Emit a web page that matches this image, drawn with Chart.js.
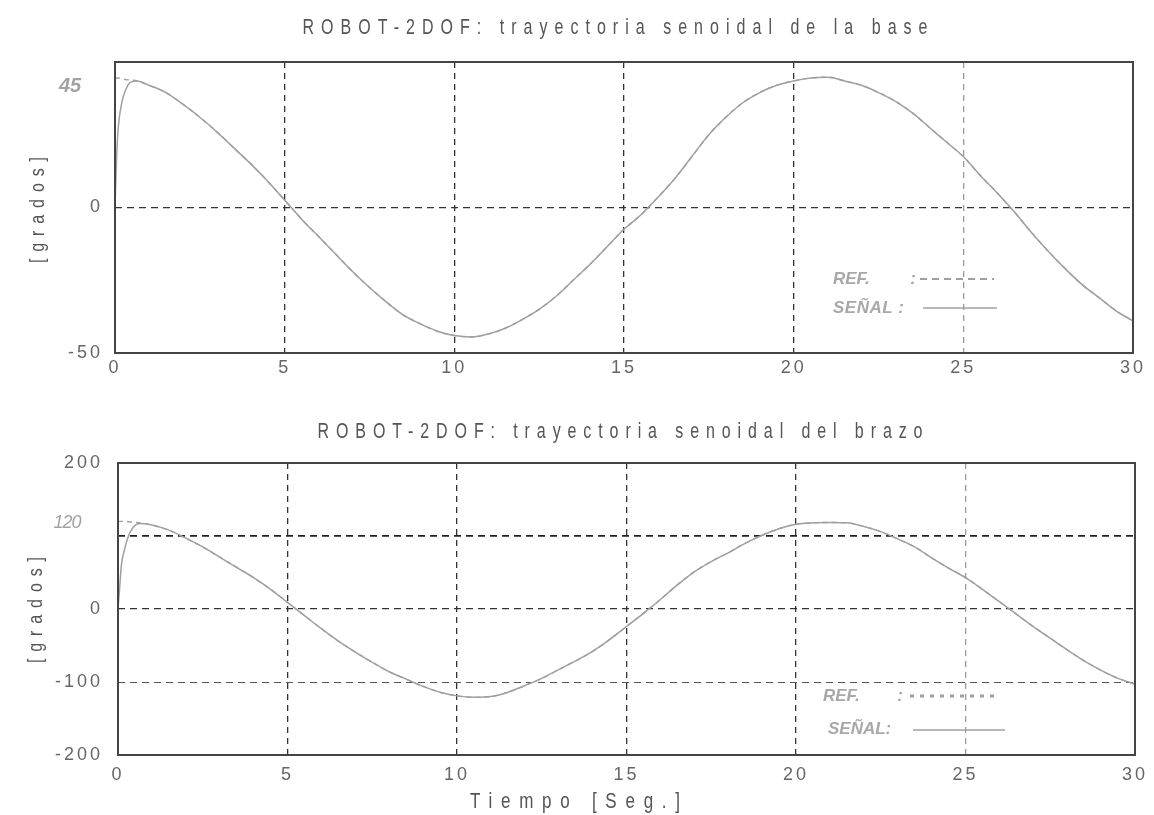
<!DOCTYPE html>
<html>
<head>
<meta charset="utf-8">
<script src="https://cdn.jsdelivr.net/npm/chart.js@4/dist/chart.umd.min.js"></script>
<style>
    body { margin: 0; background: #fff; width: 1154px; height: 815px; overflow: hidden; position: relative; }
    canvas { position: absolute; left: 0; }
    #base { top: 0; }
    #brazo { top: 410px; }
</style>
</head>
<body>
<canvas id="base" width="1154" height="410"></canvas>
<canvas id="brazo" width="1154" height="405"></canvas>
<script>
// tiempo [seg]
var tiempo = [0, 0.05, 0.1, 0.2, 0.3, 0.45, 0.65, 1, 1.5, 2, 2.5, 3, 3.5, 4, 4.5, 5, 5.5, 6, 6.5, 7, 7.5,
    8, 8.5, 9, 9.5, 10, 10.5, 11, 11.5, 12, 12.5, 13, 13.5, 14, 14.5, 15, 15.5, 16, 16.5, 17, 17.5,
    18, 18.5, 19, 19.5, 20, 20.5, 21, 21.5, 22, 22.5, 23, 23.5, 24, 24.5, 25, 25.5, 26, 26.5, 27, 27.5,
    28, 28.5, 29, 29.5, 30];

// base [grados]
var baseSenal = [0, 18, 28, 36, 40, 43, 43.5, 42, 39.5, 35.5, 31, 26, 20.5, 15, 9, 2.5, -4, -10, -16, -22, -27.5,
    -32.5, -37, -40, -42.5, -44, -44.5, -43.5, -41.5, -38.5, -35, -30.5, -25, -19.5, -13.5, -7.5, -2.5, 3.5, 10, 17.5, 25,
    31, 36, 39.5, 42, 43.5, 44.5, 44.8, 43.5, 42, 39.5, 36.5, 32.5, 27.5, 22.5, 17.5, 11, 5, -1.5, -8.5, -15,
    -21, -26.5, -31, -35.5, -39];
var baseRef = [44.5, 44.5, 44.5, 44.3, 44, 43.8, 43.5, 42, 39.5, 35.5, 31, 26, 20.5, 15, 9, 2.5, -4, -10, -16, -22, -27.5,
    -32.5, -37, -40, -42.5, -44, -44.5, -43.5, -41.5, -38.5, -35, -30.5, -25, -19.5, -13.5, -7.5, -2.5, 3.5, 10, 17.5, 25,
    31, 36, 39.5, 42, 43.5, 44.5, 44.8, 43.5, 42, 39.5, 36.5, 32.5, 27.5, 22.5, 17.5, 11, 5, -1.5, -8.5, -15,
    -21, -26.5, -31, -35.5, -39];

// brazo [grados]
var brazoSenal = [0, 30, 60, 83, 99, 112, 117, 115, 108, 97, 85, 71, 57, 43, 27, 9, -9, -27, -44, -59, -73,
    -86, -96, -106, -114, -119, -121, -120, -114, -105, -95, -83, -71, -58, -42, -24, -6, 13, 33, 51, 65,
    77, 90, 101, 110, 116, 118, 118.5, 118, 113, 106, 96, 85, 70, 56, 43, 27, 10, -7, -24, -40,
    -56, -71, -84, -95, -103];
var brazoRef = [120, 120, 120, 120, 119.5, 119, 118, 115, 108, 97, 85, 71, 57, 43, 27, 9, -9, -27, -44, -59, -73,
    -86, -96, -106, -114, -119, -121, -120, -114, -105, -95, -83, -71, -58, -42, -24, -6, 13, 33, 51, 65,
    77, 90, 101, 110, 116, 118, 118.5, 118, 113, 106, 96, 85, 70, 56, 43, 27, 10, -7, -24, -40,
    -56, -71, -84, -95, -103];

var COLOR_LINEA = "#a0a0a0";
var COLOR_TEXTO = "#666";
var FUENTE = "'Liberation Sans', Arial, sans-serif";

function puntos(ys) {
    return tiempo.map(function (t, i) {
        return { x: t, y: ys[i] };
    });
}

// texto normal
function texto(ctx, s, x, y, font, color, align, spacing) {
    ctx.save();
    ctx.font = font;
    ctx.fillStyle = color;
    ctx.textAlign = align || "center";
    ctx.textBaseline = "middle";
    ctx.letterSpacing = (spacing || 0) + "px";
    ctx.fillText(s, x, y);
    ctx.restore();
}

// texto estirado a un ancho dado (centrado en cx), alto escalado por sy
function textoAncho(ctx, s, cx, y, ancho, font, color, sy) {
    ctx.save();
    ctx.font = font;
    ctx.letterSpacing = "0px";
    var w = ctx.measureText(s).width;
    var sp = (ancho - w) / (s.length - 1);
    ctx.translate(cx - ancho / 2, y);
    ctx.scale(1, sy || 1);
    texto(ctx, s, 0, 0, font, color, "left", sp);
    ctx.restore();
}

function linea(ctx, x1, x2, y, dash, width) {
    ctx.save();
    ctx.strokeStyle = COLOR_LINEA;
    ctx.lineWidth = width;
    ctx.setLineDash(dash);
    ctx.beginPath();
    ctx.moveTo(x1, y);
    ctx.lineTo(x2, y);
    ctx.stroke();
    ctx.restore();
}

function grafico(id, senal, ref, cfg) {
    var ctx = document.getElementById(id).getContext("2d");

    var decoracion = {
        id: "decoracion",
        beforeDraw: function (chart) {
            chart.ctx.letterSpacing = "3px";
        },
        afterDraw: function (chart) {
            var c = chart.ctx;
            var a = chart.chartArea;
            c.letterSpacing = "0px";
            // marco
            c.save();
            c.strokeStyle = "#444";
            c.lineWidth = 2;
            c.setLineDash([]);
            c.strokeRect(a.left, a.top, a.right - a.left, a.bottom - a.top);
            c.restore();
            cfg.extra(c, a);
        },
    };

    return new Chart(ctx, {
        type: "line",
        data: {
            datasets: [
                {
                    label: "REF.",
                    data: puntos(ref),
                    borderColor: COLOR_LINEA,
                    borderWidth: 1.4,
                    borderDash: [5, 4],
                    pointRadius: 0,
                    cubicInterpolationMode: "monotone",
                },
                {
                    label: "SEÑAL",
                    data: puntos(senal),
                    borderColor: COLOR_LINEA,
                    borderWidth: 1.5,
                    pointRadius: 0,
                    cubicInterpolationMode: "monotone",
                },
            ],
        },
        options: {
            responsive: false,
            animation: false,
            devicePixelRatio: 1,
            layout: { padding: cfg.padding },
            plugins: {
                legend: { display: false },
                tooltip: { enabled: false },
            },
            scales: {
                x: {
                    type: "linear",
                    min: 0,
                    max: 30,
                    afterFit: function (scale) {
                        scale.height = cfg.altoX;
                    },
                    ticks: {
                        stepSize: 5,
                        autoSkip: false,
                        maxRotation: 0,
                        padding: cfg.padX,
                        color: COLOR_TEXTO,
                        font: { family: FUENTE, size: 18 },
                    },
                    grid: {
                        drawTicks: false,
                        lineWidth: 1.3,
                        color: function (c) {
                            var v = c.tick && c.tick.value;
                            if (v === 0 || v === 30) return "rgba(0,0,0,0)";
                            return v === 25 ? "#9a9a9a" : "#333";
                        },
                    },
                    border: { display: false, dash: [6, 5] },
                },
                y: {
                    min: cfg.ymin,
                    max: cfg.ymax,
                    afterFit: function (scale) {
                        scale.width = cfg.anchoY;
                    },
                    ticks: {
                        stepSize: cfg.paso,
                        padding: cfg.padY,
                        color: COLOR_TEXTO,
                        font: { family: FUENTE, size: 18 },
                        callback: function (v) {
                            return cfg.ocultar.indexOf(v) >= 0 ? "" : String(v);
                        },
                    },
                    grid: {
                        drawTicks: false,
                        lineWidth: function (c) {
                            return cfg.gridY[c.tick.value] ? cfg.gridY[c.tick.value][1] : 0;
                        },
                        color: function (c) {
                            return cfg.gridY[c.tick.value] ? cfg.gridY[c.tick.value][0] : "rgba(0,0,0,0)";
                        },
                    },
                    border: { display: false, dash: [7, 5] },
                },
            },
        },
        plugins: [decoracion],
    });
}

grafico("base", baseSenal, baseRef, {
    padding: { top: 62, right: 21, left: 0, bottom: 0 },
    altoX: 57,
    anchoY: 115,
    padX: 4,
    padY: 12,
    ymin: -50,
    ymax: 50,
    paso: 50,
    ocultar: [50],
    gridY: { 0: ["#333", 1.3] },
    extra: function (c, a) {
        var f = "16px " + FUENTE;
        textoAncho(c, "ROBOT-2DOF: trayectoria senoidal de la base", 615, 28, 625, f, "#555", 1.35);
        c.save();
        c.translate(38, 210);
        c.rotate(-Math.PI / 2);
        textoAncho(c, "[grados]", 0, 0, 106, f, "#555", 1.3);
        c.restore();
        texto(c, "45", 70, 86, "italic bold 20px " + FUENTE, "#a3a3a3", "center", 0);
        // leyenda
        var fl = "italic bold 17px " + FUENTE;
        texto(c, "REF.", 833, 279, fl, "#a8a8a8", "left", 0);
        texto(c, ":", 913, 279, fl, "#a8a8a8", "center", 0);
        linea(c, 920, 994, 279, [7, 5], 2);
        texto(c, "SEÑAL :", 833, 308, fl, "#a8a8a8", "left", 0.5);
        linea(c, 923, 997, 308, [], 1.6);
    },
});

grafico("brazo", brazoSenal, brazoRef, {
    padding: { top: 53, right: 16, left: 0, bottom: 0 },
    altoX: 60,
    anchoY: 118,
    padX: 9,
    padY: 15,
    ymin: -200,
    ymax: 200,
    paso: 100,
    ocultar: [100],
    gridY: { 100: ["#222", 1.8], 0: ["#333", 1.3], "-100": ["#555", 1] },
    extra: function (c, a) {
        var f = "16px " + FUENTE;
        textoAncho(c, "ROBOT-2DOF: trayectoria senoidal del brazo", 620, 22, 605, f, "#555", 1.35);
        c.save();
        c.translate(36, 200);
        c.rotate(-Math.PI / 2);
        textoAncho(c, "[grados]", 0, 0, 106, f, "#555", 1.3);
        c.restore();
        texto(c, "120", 67, 113, "italic 18px " + FUENTE, "#a3a3a3", "center", -1);
        textoAncho(c, "Tiempo [Seg.]", 575, 392, 210, "17px " + FUENTE, "#555", 1.3);
        // leyenda
        var fl = "italic bold 17px " + FUENTE;
        texto(c, "REF.", 823, 286, fl, "#a8a8a8", "left", 0);
        texto(c, ":", 900, 286, fl, "#a8a8a8", "center", 0);
        linea(c, 910, 994, 286, [4, 6], 3);
        texto(c, "SEÑAL:", 828, 319, fl, "#a8a8a8", "left", 0);
        linea(c, 913, 1005, 320, [], 1.6);
    },
});
</script>
</body>
</html>
